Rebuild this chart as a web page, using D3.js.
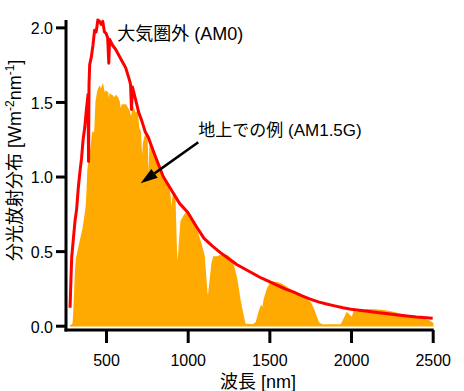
<!DOCTYPE html>
<html>
<head>
<meta charset="utf-8">
<script src="https://cdn.jsdelivr.net/npm/d3@7"></script>
<style>
  body { margin: 0; background: #fff; }
  svg { display: block; }
</style>
</head>
<body>
<div id="main"></div>
<script>
// extraterrestrial spectrum (AM0), wavelength [nm] / irradiance [W m-2 nm-1]
var am0Wl  = [280, 285, 290, 300, 310, 320, 330, 340, 350, 360, 370, 380, 390, 393, 396, 400,
              410, 420, 430, 440, 450, 460, 470, 480, 490, 500, 510, 517, 522, 540, 560, 580,
              600, 620, 640, 650, 656, 662, 680, 700, 720, 740, 760, 780, 800, 850, 900, 950,
              1000, 1050, 1100, 1150, 1200, 1250, 1300, 1350, 1400, 1450, 1500, 1550, 1600, 1650,
              1700, 1750, 1800, 1850, 1900, 1950, 2000, 2100, 2200, 2300, 2400, 2500];
var am0Val = [0.12, 0.30, 0.46, 0.58, 0.70, 0.78, 0.92, 1.03, 1.12, 1.25, 1.33, 1.45, 1.55, 1.10, 1.62, 1.75,
              1.80, 1.88, 1.98, 1.97, 2.05, 2.04, 2.02, 2.04, 1.97, 1.96, 1.93, 1.76, 1.92, 1.88, 1.85, 1.81,
              1.77, 1.73, 1.66, 1.62, 1.45, 1.60, 1.52, 1.43, 1.37, 1.30, 1.26, 1.20, 1.14, 1.00, 0.91, 0.82,
              0.76, 0.67, 0.585, 0.535, 0.49, 0.45, 0.41, 0.38, 0.35, 0.32, 0.295, 0.27, 0.245, 0.225,
              0.20, 0.178, 0.16, 0.145, 0.133, 0.12, 0.11, 0.097, 0.083, 0.07, 0.058, 0.05];

// ground level example (AM1.5G)
var amgWl  = [280, 295, 300, 305, 310, 315, 320, 330, 340, 350, 360, 370, 380, 385, 390, 400,
              410, 420, 430, 440, 450, 460, 470, 480, 490, 500, 510, 518, 525, 540, 550, 560,
              570, 580, 590, 600, 620, 640, 655, 665, 680, 690, 700, 710, 720, 730, 740, 750,
              760, 770, 780, 800, 820, 840, 860, 880, 890, 900, 910, 920, 930, 940, 950, 960,
              980, 990, 1000, 1020, 1040, 1060, 1080, 1100, 1110, 1120, 1130, 1140, 1150, 1160, 1180, 1200,
              1220, 1240, 1260, 1280, 1300, 1320, 1340, 1350, 1400, 1420, 1440, 1450, 1460, 1470, 1490, 1510,
              1540, 1570, 1600, 1640, 1680, 1720, 1750, 1770, 1790, 1800, 1820, 1940, 1960, 1975, 1990, 2005,
              2020, 2040, 2060, 2100, 2150, 2200, 2250, 2300, 2350, 2400, 2450, 2480, 2500];
var amgVal = [0.0, 0.005, 0.02, 0.12, 0.25, 0.38, 0.45, 0.50, 0.55, 0.60, 0.65, 0.72, 0.80, 0.90, 1.04, 1.15,
              1.20, 1.30, 1.25, 1.50, 1.57, 1.60, 1.58, 1.61, 1.55, 1.57, 1.56, 1.47, 1.55, 1.54, 1.52, 1.54,
              1.53, 1.50, 1.43, 1.48, 1.48, 1.44, 1.38, 1.46, 1.42, 1.43, 1.32, 1.30, 1.05, 1.22, 1.27, 1.27,
              0.85, 1.20, 1.18, 1.12, 1.04, 1.01, 0.98, 0.93, 0.88, 0.74, 0.86, 0.89, 0.50, 0.37, 0.55, 0.70,
              0.74, 0.755, 0.75, 0.72, 0.68, 0.62, 0.55, 0.47, 0.32, 0.18, 0.22, 0.32, 0.42, 0.46, 0.46, 0.47,
              0.47, 0.47, 0.45, 0.40, 0.31, 0.17, 0.06, 0.01, 0.005, 0.02, 0.10, 0.13, 0.11, 0.18, 0.25, 0.29,
              0.29, 0.28, 0.26, 0.23, 0.21, 0.18, 0.155, 0.11, 0.05, 0.02, 0.005, 0.005, 0.05, 0.085, 0.07, 0.05,
              0.093, 0.087, 0.10, 0.107, 0.105, 0.10, 0.09, 0.077, 0.064, 0.052, 0.04, 0.03, 0.015];

var xTicks = [500, 1000, 1500, 2000, 2500];
var yTicks = [0, 0.5, 1.0, 1.5, 2.0];

var width = 464, height = 391;

var x = d3.scaleLinear().domain([255, 2500]).range([66, 432.7]);
var y = d3.scaleLinear().domain([0, 2.05]).range([325.7, 19.9]);

var svg = d3.select("#main").append("svg")
    .attr("width", width)
    .attr("height", height);

var am0 = am0Wl.map(function(w, i) { return [w, am0Val[i]]; });
var amg = amgWl.map(function(w, i) { return [w, amgVal[i]]; });

// AM1.5G filled area
var area = d3.area()
    .x(function(d) { return x(d[0]); })
    .y0(y(0))
    .y1(function(d) { return y(d[1]); });

svg.append("path")
    .datum(amg)
    .attr("d", area)
    .attr("fill", "#ffaa00")
    .attr("stroke", "#ffaa00")
    .attr("stroke-width", 1.5);

// AM0 line
var line = d3.line()
    .x(function(d) { return x(d[0]); })
    .y(function(d) { return y(d[1]); });

svg.append("path")
    .datum(am0)
    .attr("d", line)
    .attr("fill", "none")
    .attr("stroke", "#ff0000")
    .attr("stroke-width", 3)
    .attr("stroke-linejoin", "round");

// axes
var font = "'Liberation Sans', Arial, sans-serif";
var axisY0 = y(0) + 4.3;

var yAxis = svg.append("g")
    .attr("transform", "translate(" + x.range()[0] + ",0)")
    .call(d3.axisLeft(y).tickValues(yTicks).tickSize(10).tickPadding(3)
        .tickFormat(d3.format(".1f")));

var xAxis = svg.append("g")
    .attr("transform", "translate(0," + axisY0 + ")")
    .call(d3.axisBottom(x).tickValues(xTicks).tickSize(13).tickPadding(12)
        .tickFormat(d3.format("d")));

[yAxis, xAxis].forEach(function(g) {
    g.select(".domain").remove();
    g.selectAll(".tick line").attr("stroke", "#000").attr("stroke-width", 3);
    g.selectAll(".tick text")
        .attr("fill", "#000")
        .style("font-family", font)
        .style("font-size", "16px");
});
yAxis.selectAll(".tick text").attr("dy", "0.4em");

svg.append("line")
    .attr("x1", x.range()[0]).attr("x2", x.range()[0])
    .attr("y1", y.range()[1]).attr("y2", axisY0 + 1.5)
    .attr("stroke", "#000").attr("stroke-width", 3);

svg.append("line")
    .attr("x1", x.range()[0] - 1.5).attr("x2", x.range()[1] + 1)
    .attr("y1", axisY0).attr("y2", axisY0)
    .attr("stroke", "#000").attr("stroke-width", 3);

// axis titles
var jpFont = "'Liberation Sans', 'Noto Sans CJK JP', sans-serif";

svg.append("text")
    .attr("x", 258)
    .attr("y", 388)
    .attr("text-anchor", "middle")
    .style("font-family", jpFont)
    .style("font-size", "18px")
    .text("波長 [nm]");

var yTitle = svg.append("text")
    .attr("transform", "translate(21,261) rotate(-90)")
    .attr("text-anchor", "start")
    .style("font-family", jpFont)
    .style("font-size", "18px");
yTitle.append("tspan").text("分光放射分布 [Wm");
yTitle.append("tspan").attr("dy", -7).style("font-size", "12px").text("-2");
yTitle.append("tspan").attr("dy", 7).text("nm");
yTitle.append("tspan").attr("dy", -7).style("font-size", "12px").text("-1");
yTitle.append("tspan").attr("dy", 7).text("]");

// annotations
svg.append("text")
    .attr("x", x(569))
    .attr("y", y(1.916))
    .style("font-family", jpFont)
    .style("font-size", "18px")
    .text("大気圏外 (AM0)");

svg.append("text")
    .attr("x", x(1065))
    .attr("y", y(1.272))
    .style("font-family", jpFont)
    .style("font-size", "17px")
    .text("地上での例 (AM1.5G)");

// arrow pointing into the AM1.5G area
var ax1 = x(1065), ay1 = y(1.23), ax2 = x(712), ay2 = y(0.955);
var ang = Math.atan2(ay2 - ay1, ax2 - ax1);
var hl = 17, hw = 5.5;
var bx = ax2 - hl * Math.cos(ang), by = ay2 - hl * Math.sin(ang);

svg.append("line")
    .attr("x1", ax1).attr("y1", ay1)
    .attr("x2", bx).attr("y2", by)
    .attr("stroke", "#000").attr("stroke-width", 2.5);

svg.append("path")
    .attr("d", "M" + ax2 + "," + ay2 +
        "L" + (bx + hw * Math.sin(ang)) + "," + (by - hw * Math.cos(ang)) +
        "L" + (bx - hw * Math.sin(ang)) + "," + (by + hw * Math.cos(ang)) + "Z")
    .attr("fill", "#000");
</script>
</body>
</html>
